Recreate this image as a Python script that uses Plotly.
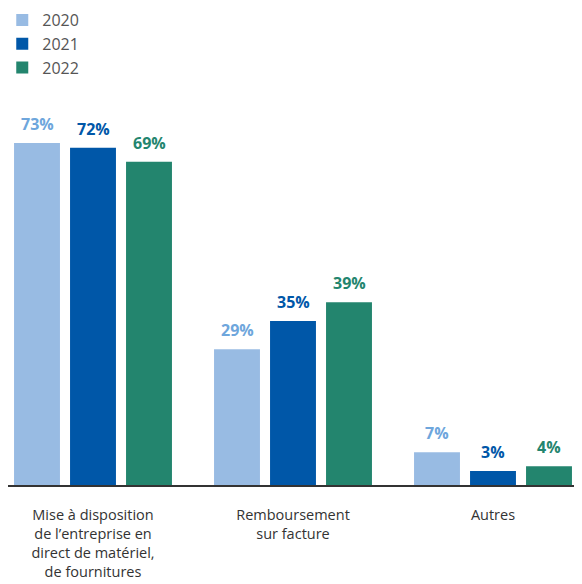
import plotly.graph_objects as go

categories = ["Mise à disposition<br>de l’entreprise en<br>direct de matériel,<br>de fournitures",
              "Remboursement<br>sur facture", "Autres"]
years = ["2020", "2021", "2022"]
values = {
    "2020": [73, 29, 7],
    "2021": [72, 35, 3],
    "2022": [69, 39, 4],
}
bar_colors = {"2020": "#98BBE3", "2021": "#0057A8", "2022": "#23856E"}
text_colors = {"2020": "#6EA6DC", "2021": "#0057A8", "2022": "#23856E"}

BARGAP = 0.16
fig = go.Figure()
for y in years:
    fig.add_trace(go.Bar(
        x=categories, y=values[y], name=y,
        marker=dict(color=bar_colors[y], line=dict(width=0)),
        cliponaxis=False,
    ))

slot = (1 - BARGAP) / len(years)
for j, y in enumerate(years):
    for ci, v in enumerate(values[y]):
        fig.add_annotation(
            x=ci + (j - (len(years) - 1) / 2) * slot, y=v, xref="x", yref="y",
            text=f"<b>{v}%</b>", showarrow=False, yanchor="bottom", yshift=6,
            font=dict(color=text_colors[y], size=16, family="Open Sans"),
        )

fig.update_layout(
    width=574, height=576,
    margin=dict(l=0, r=0, t=92, b=99, autoexpand=False),
    paper_bgcolor="white", plot_bgcolor="white",
    barmode="group", bargap=BARGAP, bargroupgap=0.18,
    font=dict(family="Open Sans", color="#333333"),
    showlegend=True,
    legend=dict(x=-0.01, y=1.252, xref="paper", yref="paper", xanchor="left", yanchor="top",
                font=dict(size=16, color="#555555"), tracegroupgap=0,
                itemwidth=30, bgcolor="rgba(0,0,0,0)"),
    xaxis=dict(range=[-0.425, 2.445], showline=True, linecolor="#333333", linewidth=1.5,
               ticks="outside", ticklen=16, tickcolor="rgba(0,0,0,0)",
               tickfont=dict(size=14.5, color="#333333"), showgrid=False, zeroline=False),
    yaxis=dict(range=[0, 82.2], visible=False, showgrid=False, zeroline=False),
)

fig.write_html("out.html")
